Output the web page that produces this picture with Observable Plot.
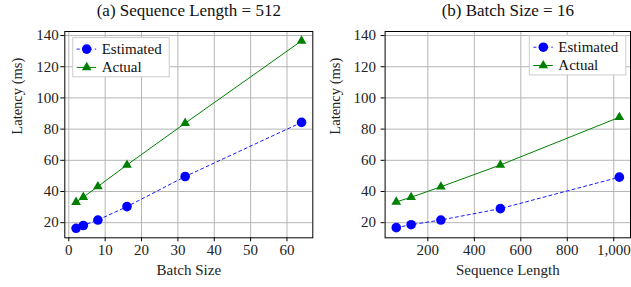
<!DOCTYPE html>
<html><head>
<meta charset="utf-8">
<script src="https://cdn.jsdelivr.net/npm/d3@7"></script>
<script src="https://cdn.jsdelivr.net/npm/@observablehq/plot@0.6"></script>
<style>
body{margin:0;background:#fff;}
#c{position:relative;width:631px;height:287px;}
#c > div{position:absolute;top:0;}
#c svg, #c svg text{font-family:"Liberation Serif","Times New Roman","DejaVu Serif",serif !important;}
</style></head><body><div id="c"><div id="a"></div><div id="b"></div></div>
<script>
const batchSizes = [2, 4, 8, 16, 32, 64];
const estA = [16.4, 18.2, 21.7, 30.3, 49.6, 84.3];
const actA = [33.2, 36.4, 43.2, 57.0, 83.8, 136.6];
const seqLens = [64, 128, 256, 512, 1024];
const estB = [16.8, 18.7, 21.7, 29.0, 49.2];
const actB = [33.3, 36.3, 43.0, 57.0, 87.6];
const yTicks = [20, 40, 60, 80, 100, 120, 140];
const xTicksA = [0, 10, 20, 30, 40, 50, 60];
const xTicksB = [200, 400, 600, 800, 1000];
const seriesNames = ["Estimated", "Actual"];
const titles = ["(a) Sequence Length = 512", "(b) Batch Size = 16"];
const xLabels = ["Batch Size", "Sequence Length"];
const yLabel = "Latency (ms)";

const BLUE = "#0000ff", GREEN = "#008000";

function panel(o) {
  const est = o.xs.map((x, i) => ({x, y: o.est[i]}));
  const act = o.xs.map((x, i) => ({x, y: o.act[i]}));
  const plot = Plot.plot({
    width: o.width, height: 287,
    marginLeft: o.ml, marginRight: o.mr, marginTop: 31, marginBottom: 49.7,
    style: {fontSize: "15px", color: "#222", background: "white"},
    x: {domain: o.xDomain},
    y: {domain: [10.3, 142.6]},
    marks: [
      Plot.gridX(o.xTicks, {stroke: "#b5b5b5", strokeOpacity: 1}),
      Plot.gridY(yTicks, {stroke: "#b5b5b5", strokeOpacity: 1}),
      Plot.frame({stroke: "#000", strokeWidth: 1}),
      Plot.axisX({ticks: o.xTicks, tickSize: 4, tickPadding: 3, tickFormat: o.fmt, label: null, stroke: "#000"}),
      Plot.axisY({ticks: yTicks, tickSize: 4, tickPadding: o.typ, label: null, stroke: "#000"}),
      Plot.line(est, {x: "x", y: "y", stroke: BLUE, strokeWidth: 0.9, strokeDasharray: "3,3"}),
      Plot.line(act, {x: "x", y: "y", stroke: GREEN, strokeWidth: 1}),
      Plot.dot(est, {x: "x", y: "y", r: 4.8, fill: BLUE, stroke: null}),
      Plot.dot(act, {x: "x", y: "y", r: 3.6, symbol: "triangle", fill: GREEN, stroke: null}),
      Plot.text([o.title], {frameAnchor: "top", dy: -21, lineAnchor: "middle", fontSize: 17, fill: "#111"}),
      Plot.text([o.xLabel], {frameAnchor: "bottom", dy: 27, lineAnchor: "top", fontSize: 15, fill: "#222"}),
      Plot.text([yLabel], {frameAnchor: "left", dx: o.ydx, rotate: -90, fontSize: 14.5, fill: "#222"})
    ]
  });
  const svg = d3.select(plot);
  const g = svg.append("g").attr("font-size", 15).attr("text-anchor", "start");
  const L = o.leg;
  g.append("rect").attr("x", L.x).attr("y", L.y).attr("width", 96.5).attr("height", 39.2)
    .attr("fill", "white").attr("stroke", "#cccccc").attr("stroke-width", 1);
  seriesNames.forEach((name, i) => {
    const yy = L.y + 11.5 + i * 18.3;
    const col = i === 0 ? BLUE : GREEN;
    g.append("line").attr("x1", L.x + 4).attr("x2", L.x + 23.5).attr("y1", yy).attr("y2", yy)
      .attr("stroke", col).attr("stroke-width", i === 0 ? 0.9 : 1).attr("stroke-dasharray", i === 0 ? "3,3" : null);
    if (i === 0) g.append("circle").attr("cx", L.x + 14).attr("cy", yy).attr("r", 4.8).attr("fill", col);
    else g.append("path").attr("d", d3.symbol(d3.symbolTriangle, Math.PI * 3.6 * 3.6)()).attr("transform", `translate(${L.x + 14},${yy})`).attr("fill", col);
    g.append("text").attr("x", L.x + 29).attr("y", yy + 4.6).attr("fill", "#111").text(name);
  });
  return plot;
}

document.getElementById("a").append(panel({
  xs: batchSizes, est: estA, act: actA, xDomain: [-1.1, 67.1], xTicks: xTicksA, fmt: d3.format("d"),
  width: 316, ml: 64.3, mr: 3.7, typ: 2, ydx: -47.3, title: titles[0], xLabel: xLabels[0],
  leg: {x: 72.7, y: 37.6}
}));
const bDiv = document.getElementById("b");
bDiv.style.left = "316px";
bDiv.append(panel({
  xs: seqLens, est: estB, act: actB, xDomain: [16, 1072], xTicks: xTicksB, fmt: d3.format(","),
  width: 315, ml: 68.6, mr: 1, typ: 5, ydx: -49.6, title: titles[1], xLabel: xLabels[1],
  leg: {x: 529.3 - 316, y: 35.7}
}));
</script>
</body></html>
